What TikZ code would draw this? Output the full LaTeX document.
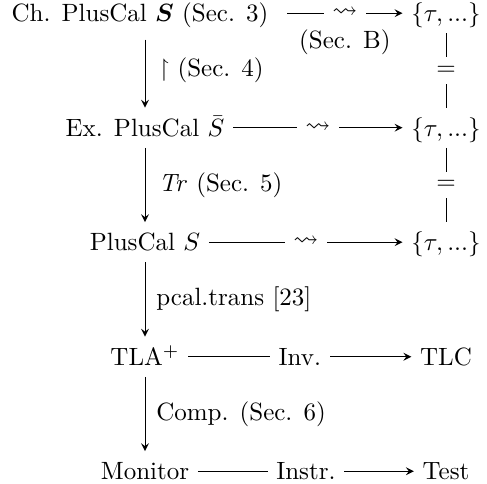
\documentclass[tikz,border=0pt]{standalone}
\usepackage{amsmath,amssymb}
\usepackage{tikz}
\tikzstyle{spec} = [text height=8pt, text depth=1pt, anchor=base]
\tikzstyle{arrow} = [->,>=stealth]
\tikzstyle{eqline} = [-]
\tikzstyle{mid} = [fill=white, inner xsep=3.5pt, inner ysep=1pt]

\begin{document}
\begin{tikzpicture}[x=0.4pt,y=-0.4pt]
              \useasboundingbox (0,0) rectangle (487,484);
              \node (chspec) [spec] at (140,22) {Ch. PlusCal $\boldsymbol{S}$ (Sec. 3)};
              \node (exspec) [spec] at (145,136.5) {Ex. PlusCal $\bar{S}$};
              \node (pcspec) [spec] at (145,251) {PlusCal $S$};
              \node (tla) [spec] at (145,365.5) {TLA$^+$};
              \node (mon) [spec] at (145,480) {Monitor};

              \node (trch) [spec] at (446,22) {$\{\tau, ...\}$};
              \node (trex) [spec] at (446,136.5) {$\{\tau, ...\}$};
              \node (trpc) [spec] at (446,251) {$\{\tau, ...\}$};
              \node (tlc) [spec] at (446,365.5) {TLC};
              \node (test) [spec] at (446,480) {Test};

              \draw [arrow, shorten <=4pt] (chspec) -- node[mid, xshift=2pt]
              {$\rightsquigarrow$} node[below=3pt, xshift=2pt] {(Sec. B)} (trch);
              \draw [arrow] (exspec) -- node[mid] {$\rightsquigarrow$} (trex);
              \draw [arrow] (pcspec) -- node[mid] {$\rightsquigarrow$} (trpc);
              \draw [arrow] (tla) -- node[mid] {Inv.} (tlc);
              \draw [arrow] (mon) -- node[mid] {Instr.} (test);

              \draw [arrow, shorten <=2.5pt] (chspec.south -| exspec.north) --
              node[right=2pt] {$\restriction$ (Sec. 4)} (exspec);
              \draw [arrow] (exspec) -- node[right=2pt] {$\mathit{Tr}$ (Sec. 5)}
              (pcspec);
              \draw [arrow] (pcspec) -- node[right=1pt] {pcal.trans [23]} (tla);
              \draw [arrow] (tla) -- node[right=1pt] {Comp. (Sec. 6)} (mon);

              \draw [eqline] (trch) -- node[mid, inner ysep=3.5pt] {$=$} (trex);
              \draw [eqline] (trex) -- node[mid, inner ysep=3.5pt] {$=$} (trpc);
            \end{tikzpicture}
\end{document}
